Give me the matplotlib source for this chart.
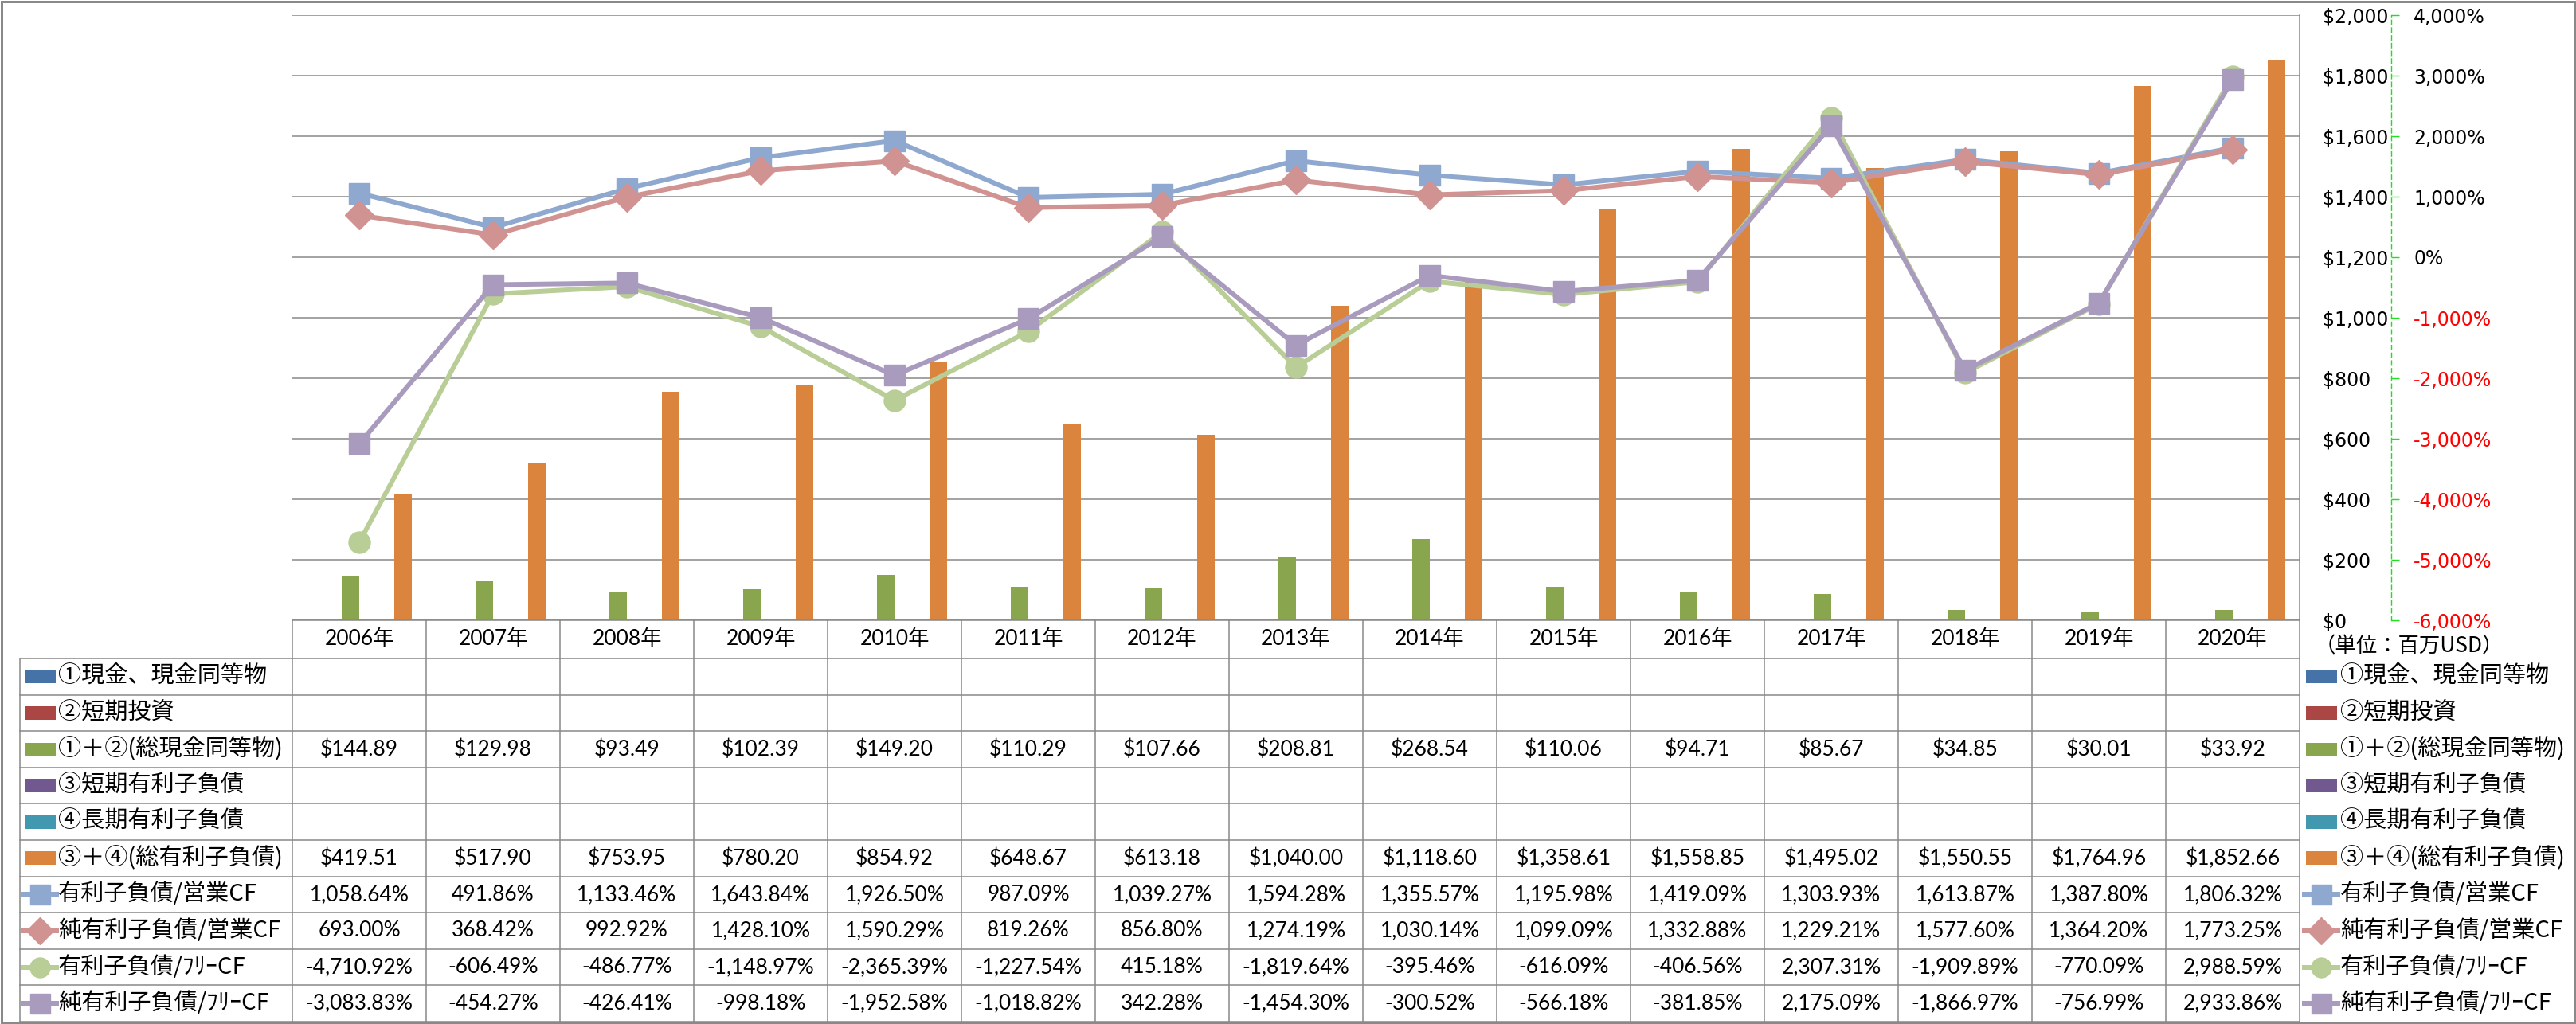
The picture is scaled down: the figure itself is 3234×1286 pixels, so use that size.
import matplotlib
matplotlib.use("Agg")
import matplotlib.pyplot as plt
import numpy as np
from matplotlib.patches import Rectangle

# ---- data (百万USD / %) ----
years = [f"{y}年" for y in range(2006, 2021)]

cash_total = [144.89, 129.98, 93.49, 102.39, 149.20, 110.29, 107.66, 208.81,
              268.54, 110.06, 94.71, 85.67, 34.85, 30.01, 33.92]
debt_total = [419.51, 517.90, 753.95, 780.20, 854.92, 648.67, 613.18, 1040.00,
              1118.60, 1358.61, 1558.85, 1495.02, 1550.55, 1764.96, 1852.66]

debt_op = [1058.64, 491.86, 1133.46, 1643.84, 1926.50, 987.09, 1039.27, 1594.28,
           1355.57, 1195.98, 1419.09, 1303.93, 1613.87, 1387.80, 1806.32]
net_op = [693.00, 368.42, 992.92, 1428.10, 1590.29, 819.26, 856.80, 1274.19,
          1030.14, 1099.09, 1332.88, 1229.21, 1577.60, 1364.20, 1773.25]
debt_free = [-4710.92, -606.49, -486.77, -1148.97, -2365.39, -1227.54, 415.18, -1819.64,
             -395.46, -616.09, -406.56, 2307.31, -1909.89, -770.09, 2988.59]
net_free = [-3083.83, -454.27, -426.41, -998.18, -1952.58, -1018.82, 342.28, -1454.30,
            -300.52, -566.18, -381.85, 2175.09, -1866.97, -756.99, 2933.86]

bar_names = ["①現金、現金同等物", "②短期投資", "①＋②(総現金同等物)",
             "③短期有利子負債", "④長期有利子負債", "③＋④(総有利子負債)"]
bar_colors = ["#4572A7", "#AA4643", "#89A54E", "#71588F", "#4198AF", "#DB843D"]
bar_values = [None, None, cash_total, None, None, debt_total]

line_names = ["有利子負債/営業CF", "純有利子負債/営業CF", "有利子負債/ﾌﾘｰCF", "純有利子負債/ﾌﾘｰCF"]
line_colors = ["#8EA8D0", "#D19392", "#B9CD96", "#A99BBD"]
line_markers = ["s", "D", "o", "s"]
line_values = [debt_op, net_op, debt_free, net_free]

# ---- layout (pixels) ----
W, H = 3234, 1286
PT = 72 / 100          # points per pixel at dpi 100
L, R, T, B = 367, 2887, 19, 779
TAB_L, HEAD_B, TAB_B = 25, 827, 1283
n = len(years)
col_w = (R - L) / n
row_h = (TAB_B - HEAD_B) / 10
grey = "#878787"
green_axis = "#1EE01E"

plt.rcParams['font.family'] = ['Noto Sans CJK JP', 'DejaVu Sans']
num_font = ['Lato', 'Noto Sans CJK JP']

fig = plt.figure(figsize=(W / 100, H / 100), dpi=100)
ax = fig.add_axes([L / W, 1 - B / H, (R - L) / W, (B - T) / H])
ax2 = ax.twinx()

x = np.arange(n)
bw = 22 / col_w
for k, (vals, c) in enumerate(zip(bar_values, bar_colors)):
    if vals is None:
        continue
    ax.bar(x + (k - 2.5) * bw, vals, bw, color=c, zorder=2)

ax.set_xlim(-0.5, n - 0.5)
ax.set_ylim(0, 2000)
ax.yaxis.tick_right()
ax.set_yticks(range(0, 2001, 200))
ax.set_yticklabels([f"${v:,}" for v in range(0, 2001, 200)])
ax.tick_params(axis='y', length=0, pad=29 * PT, labelsize=17,
               labelfontfamily='DejaVu Sans', right=False)
ax.set_xticks([])
ax.yaxis.grid(True, color=grey, lw=1.5 * PT, zorder=0)
for s in ['top', 'left', 'bottom']:
    ax.spines[s].set_visible(False)
ax.spines['right'].set_color(grey)
ax.spines['right'].set_linewidth(1.5 * PT)

for vals, c, m in zip(line_values, line_colors, line_markers):
    ax2.plot(x, vals, color=c, lw=6 * PT, marker=m, ms=(26 if m == 'D' else 27) * PT,
             mec=c, mew=1, zorder=3, solid_capstyle='round')
for s in ['top', 'left', 'bottom']:
    ax2.spines[s].set_visible(False)
ax2.spines['right'].set_position(('outward', 115 * PT))
ax2.spines['right'].set_color(green_axis)
ax2.spines['right'].set_linestyle((0, (4, 3)))
ax2.spines['right'].set_linewidth(1)
ax2.set_ylim(-6000, 4000)
ticks2 = list(range(-6000, 4001, 1000))
ax2.set_yticks(ticks2)
ax2.set_yticklabels([f"{v:,}%" for v in ticks2])
ax2.tick_params(axis='y', length=10 * PT, width=1, color=green_axis, pad=18 * PT,
                labelsize=17, labelfontfamily='DejaVu Sans')

# ---- data table + legend overlay, pixel coordinates ----
ov = fig.add_axes([0, 0, 1, 1], zorder=5)
ov.set_xlim(0, W)
ov.set_ylim(H, 0)
ov.axis('off')

lw_t = 1.5 * PT
ov.plot([L, R], [B, B], color=grey, lw=lw_t)
for i in range(11):
    yy = HEAD_B + i * row_h
    ov.plot([TAB_L, R], [yy, yy], color=grey, lw=lw_t)
ov.plot([TAB_L, TAB_L], [HEAD_B, TAB_B], color=grey, lw=lw_t)
for j in range(n + 1):
    ov.plot([L + j * col_w] * 2, [B, TAB_B], color=grey, lw=lw_t)

for j, yr in enumerate(years):
    ov.text(L + (j + 0.5) * col_w, (B + HEAD_B) / 2, yr, ha='center', va='center',
            fontsize=19, family=num_font)


def legend_key(xc, yc, row):
    if row < 6:
        ov.add_patch(Rectangle((xc - 19.5, yc - 8.5), 39, 17, color=bar_colors[row], lw=0))
    else:
        k = row - 6
        m = line_markers[k]
        ov.plot([xc - 21, xc + 21], [yc, yc], color=line_colors[k], lw=6 * PT)
        ov.plot([xc], [yc], color=line_colors[k], marker=m,
                ms=(24 if m == 'D' else 25) * PT, ls='none')


row_vals = bar_values + line_values
for i, name in enumerate(bar_names + line_names):
    yc = HEAD_B + (i + 0.5) * row_h
    legend_key(50, yc, i)
    ov.text(73, yc, name, ha='left', va='center', fontsize=21)
    legend_key(2914, yc, i)
    ov.text(2938, yc, name, ha='left', va='center', fontsize=21)
    vals = row_vals[i]
    if vals is None:
        continue
    for j, v in enumerate(vals):
        s = f"${v:,.2f}" if i < 6 else f"{v:,.2f}%"
        ov.text(L + (j + 0.5) * col_w, yc, s, ha='center', va='center',
                fontsize=19, family=num_font)

ov.text(2906, 812, "（単位：百万USD）", ha='left', va='center', fontsize=19)

ov.add_patch(Rectangle((1.5, 1.5), W - 3, H - 3, fill=False, ec='#898989', lw=3 * PT))

fig.canvas.draw()
for lab, v in zip(ax2.get_yticklabels(), ticks2):
    lab.set_color('red' if v < 0 else 'black')

fig.savefig("out.png", dpi=100)
